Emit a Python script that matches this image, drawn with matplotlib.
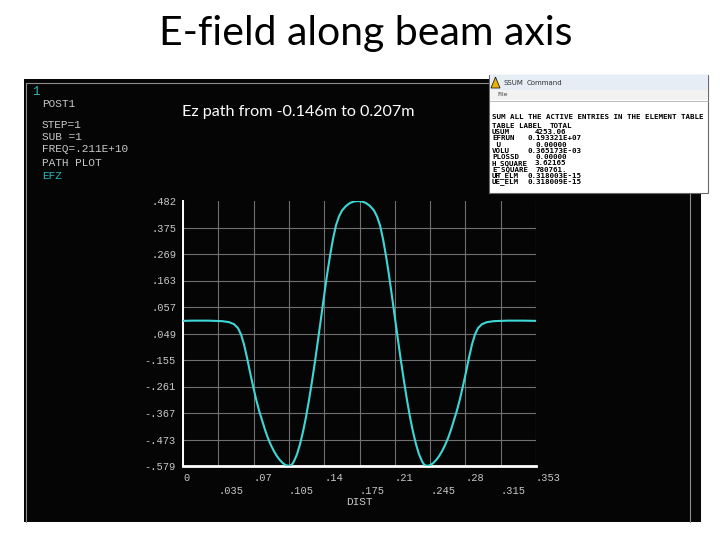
import numpy as np
import matplotlib.pyplot as plt
from matplotlib.patches import Rectangle, Polygon

# path plot of EFZ along DIST (m)
dist = [0.000, 0.010, 0.025, 0.039, 0.046, 0.051, 0.055, 0.058, 0.061, 0.064,
        0.067, 0.070, 0.073, 0.076, 0.079, 0.082, 0.085, 0.088, 0.091, 0.094,
        0.097, 0.100, 0.103, 0.106, 0.109, 0.111, 0.114, 0.117, 0.120, 0.123,
        0.126, 0.129, 0.132, 0.135, 0.138, 0.141, 0.144, 0.147, 0.150, 0.153,
        0.156, 0.159, 0.163, 0.167, 0.171, 0.175, 0.179, 0.183, 0.187, 0.191,
        0.194, 0.197, 0.200, 0.203, 0.206, 0.209, 0.212, 0.215, 0.218, 0.221,
        0.224, 0.227, 0.230, 0.233, 0.236, 0.239, 0.241, 0.244, 0.247, 0.250,
        0.253, 0.256, 0.259, 0.262, 0.265, 0.268, 0.271, 0.274, 0.277, 0.280,
        0.283, 0.286, 0.289, 0.292, 0.295, 0.299, 0.304, 0.311, 0.325, 0.340,
        0.353]
efz = [0.002, 0.003, 0.003, 0.001, -0.003, -0.011, -0.027, -0.052, -0.092, -0.145,
       -0.203, -0.258, -0.310, -0.356, -0.395, -0.434, -0.468, -0.496, -0.520, -0.540,
       -0.556, -0.568, -0.576, -0.579, -0.573, -0.560, -0.532, -0.492, -0.442, -0.383,
       -0.315, -0.240, -0.160, -0.075, 0.012, 0.100, 0.185, 0.262, 0.330, 0.385,
       0.420, 0.444, 0.462, 0.474, 0.480, 0.482, 0.480, 0.474, 0.462, 0.444,
       0.420, 0.385, 0.330, 0.262, 0.185, 0.100, 0.012, -0.075, -0.160, -0.240,
       -0.315, -0.383, -0.442, -0.492, -0.532, -0.560, -0.573, -0.579, -0.576, -0.568,
       -0.556, -0.540, -0.520, -0.496, -0.468, -0.434, -0.395, -0.356, -0.310, -0.258,
       -0.203, -0.145, -0.092, -0.052, -0.027, -0.011, -0.003, 0.001, 0.003, 0.003,
       0.002]

x_labels = ['0', '.035', '.07', '.105', '.14', '.175', '.21', '.245', '.28', '.315', '.353']
y_labels = ['.482', '.375', '.269', '.163', '.057', '.049', '-.155', '-.261', '-.367', '-.473', '-.579']

header = ['POST1', 'STEP=1', 'SUB =1', 'FREQ=.211E+10', 'PATH PLOT']
header_y = [104, 125, 137, 149.5, 163]

table_names = ['USUM', 'EFRUN', ' U', 'VOLU', 'PLOSSD', 'H_SQUARE', 'E_SQUARE', 'UH_ELM', 'UE_ELM']
table_totals = ['4253.06', '0.193321E+07', '0.00000', '0.365173E-03', '0.00000',
                '3.62165', '780761.', '0.318003E-15', '0.318009E-15']

grey = '#c8c8c8'
cyan = '#3fd6d6'
mono = 'Liberation Mono'

fig = plt.figure(figsize=(7.2, 5.4), dpi=100)
fig.patch.set_facecolor('white')

# background layer in pixel coordinates
bg = fig.add_axes([0, 0, 1, 1], zorder=0)
bg.set_xlim(0, 720)
bg.set_ylim(540, 0)
bg.axis('off')
bg.add_patch(Rectangle((24, 79), 677, 443, facecolor='#050505', edgecolor='none'))
bg.plot([26, 26, 690, 690], [522, 83, 83, 522], color='#8c8c8c', lw=0.8)

fig.text(366, 540 - 45, 'E-field along beam axis', transform=None, ha='center', va='baseline',
         fontsize=29.5, family='Lato', color='black')

bg.text(32, 92, '1', color='#2bb8b8', fontsize=9, family=mono, va='center')
for yy, line in zip(header_y, header):
    bg.text(42, yy, line, color=grey, fontsize=8, family=mono, va='center')
bg.text(42, 176, 'EFZ', color='#2bb8b8', fontsize=8, family=mono, va='center')
bg.text(182, 112, 'Ez path from -0.146m to 0.207m', color='white', fontsize=11.6,
        family='Lato', va='center')

# the path plot itself
ax = fig.add_axes([183 / 720, 74 / 540, 353 / 720, 265 / 540], zorder=2)
ax.set_facecolor('none')
ax.plot(dist, efz, color=cyan, lw=1.5, zorder=3, solid_joinstyle='round')
xt = np.linspace(0, 0.353, 11)
yt = np.linspace(0.482, -0.579, 11)
ax.set_xlim(0, 0.353)
ax.set_ylim(-0.579, 0.482)
ax.set_xticks(xt)
ax.set_xticklabels([lab if i % 2 == 0 else '\n' + lab for i, lab in enumerate(x_labels)],
                   ha='left', linespacing=1.35)
ax.set_yticks(yt)
ax.set_yticklabels(y_labels)
ax.tick_params(length=0, colors=grey, labelsize=7.5, pad=5)
for lab in ax.get_xticklabels() + ax.get_yticklabels():
    lab.set_family(mono)
ax.grid(True, color='#707070', lw=0.8)
ax.get_ygridlines()[0].set_visible(False)
for side in ['top', 'right']:
    ax.spines[side].set_visible(False)
ax.spines['left'].set_color('white')
ax.spines['left'].set_linewidth(1.4)
ax.spines['bottom'].set_color('white')
ax.spines['bottom'].set_linewidth(2.0)
ax.set_xlabel('DIST', color=grey, fontsize=8, family=mono, labelpad=1)

# SSUM command window pasted at the top right
win = fig.add_axes([0, 0, 1, 1], zorder=5)
win.set_xlim(0, 720)
win.set_ylim(540, 0)
win.axis('off')
win.add_patch(Rectangle((489, 75), 219, 118, facecolor='white', edgecolor='#6a6a6a', lw=0.8))
win.add_patch(Rectangle((490, 75), 218, 15, facecolor='#e6edf5', edgecolor='none'))
win.add_patch(Rectangle((490, 90), 218, 10, facecolor='#f2f2f2', edgecolor='none'))
win.plot([490, 708], [100.5, 100.5], color='#b0b0b0', lw=0.6)
win.add_patch(Polygon([[491, 88], [495.5, 77], [500, 88]], closed=True,
                      facecolor='#e8b400', edgecolor='#202020', lw=0.6))
win.text(503, 83, 'SSUM', fontsize=5, family='DejaVu Sans', va='center', color='#303030')
win.text(527, 83, 'Command', fontsize=5, family='DejaVu Sans', va='center', color='#303030')
win.text(497, 95, 'File', fontsize=4.5, family='DejaVu Sans', va='center', color='#404040')

win.text(492, 117.3, 'SUM ALL THE ACTIVE ENTRIES IN THE ELEMENT TABLE', fontsize=5.4,
         family='DejaVu Sans Mono', weight='bold', va='center', color='black')
win.text(492, 125.7, 'TABLE LABEL', fontsize=5.4, family='DejaVu Sans Mono', weight='bold',
         va='center', color='black')
win.text(550, 125.7, 'TOTAL', fontsize=5.4, family='DejaVu Sans Mono', weight='bold',
         va='center', color='black')
for i, (nm, tot) in enumerate(zip(table_names, table_totals)):
    yy = 132.3 + i * 6.2
    win.text(492, yy, nm, fontsize=5.4, family='DejaVu Sans Mono', weight='bold',
             va='center', color='black')
    xx = 528 if 'E' in tot else 535
    win.text(xx, yy, tot, fontsize=5.4, family='DejaVu Sans Mono', weight='bold',
             va='center', color='black')

fig.savefig('out.png', dpi=100, facecolor='white')
